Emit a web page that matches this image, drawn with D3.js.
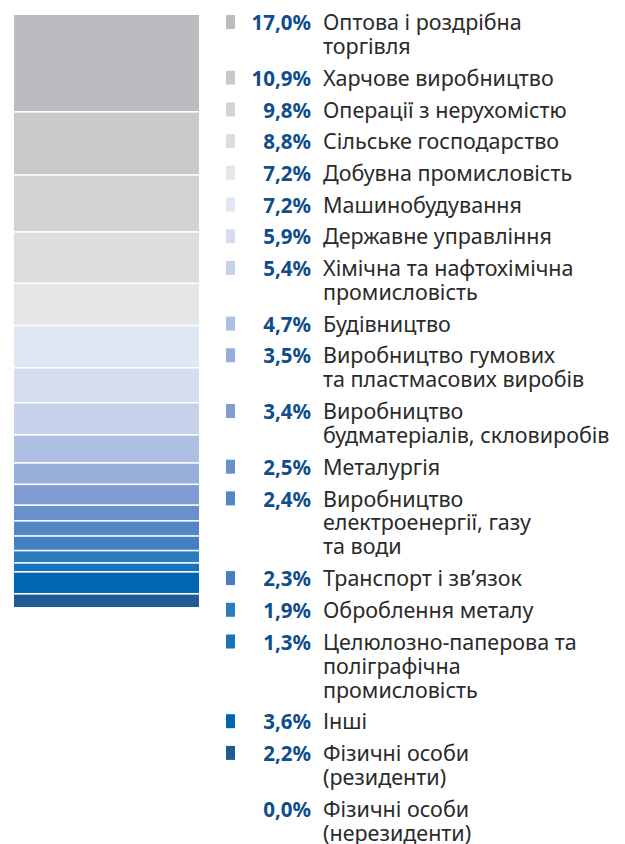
<!DOCTYPE html>
<html>
<head>
<meta charset="utf-8">
<script src="https://cdn.jsdelivr.net/npm/d3@7"></script>
<style>
  body { margin: 0; background: #fff; }
  svg text { font-family: "Noto Sans", sans-serif; }
  .pct { font-weight: bold; fill: #0f4d8c; }
  .lbl { fill: #2a2a2a; }
</style>
</head>
<body>
<div id="chart"></div>
<script>
var shares = [17.0, 10.9, 9.8, 8.8, 7.2, 7.2, 5.9, 5.4, 4.7, 3.5, 3.4, 2.5, 2.4, 2.3, 1.9, 1.3, 3.6, 2.2, 0.0];
var labels = [
  ["Оптова і роздрібна", "торгівля"],
  ["Харчове виробництво"],
  ["Операції з нерухомістю"],
  ["Сільське господарство"],
  ["Добувна промисловість"],
  ["Машинобудування"],
  ["Державне управління"],
  ["Хімічна та нафтохімічна", "промисловість"],
  ["Будівництво"],
  ["Виробництво гумових", "та пластмасових виробів"],
  ["Виробництво", "будматеріалів, скловиробів"],
  ["Металургія"],
  ["Виробництво", "електроенергії, газу", "та води"],
  ["Транспорт і зв’язок"],
  ["Оброблення металу"],
  ["Целюлозно-паперова та", "поліграфічна", "промисловість"],
  ["Інші"],
  ["Фізичні особи", "(резиденти)"],
  ["Фізичні особи", "(нерезиденти)"]
];
var colors = ["#bbbcc0", "#c8c9cb", "#d2d3d5", "#dcdddf", "#e5e6e8", "#dfe6f4",
  "#d3ddef", "#c5d2ea", "#adc0e3", "#97aedb", "#7f9dd2", "#6890ca",
  "#5485c5", "#437fc1", "#2b7bbf", "#1574bb", "#0066b3", "#225b94", "#ffffff"];

var width = 625, height = 844;
var svg = d3.select("#chart").append("svg")
  .attr("width", width)
  .attr("height", height);

// stacked column
var data = shares.map(function(v, i) { return {value: v, label: labels[i], color: colors[i], i: i}; });
var cum = 0;
data.forEach(function(d) { d.start = cum; cum += d.value; d.end = cum; });

var gap = 1.6;
var segs = data.filter(function(d) { return d.value > 0; });
var barTop = 15, barBottom = 607;
var y = d3.scaleLinear()
  .domain([0, d3.sum(shares)])
  .range([barTop, barBottom - gap * (segs.length - 1)]);
var x = d3.scaleLinear().domain([0, 1]).range([14, 199]);

svg.append("g")
  .attr("class", "bars")
  .selectAll("rect")
  .data(segs)
  .enter()
  .append("rect")
  .attr("x", x(0))
  .attr("width", x(1) - x(0))
  .attr("y", function(d, i) { return y(d.start) + i * gap; })
  .attr("height", function(d) { return y(d.end) - y(d.start); })
  .attr("fill", function(d) { return d.color; });

// legend
var lineH = 24, pitch = 31.7;
var rowY = 23;
data.forEach(function(d) { d.ly = rowY; rowY += pitch + lineH * (d.label.length - 1); });

var leg = svg.append("g")
  .attr("class", "legend")
  .selectAll("g")
  .data(data)
  .enter()
  .append("g")
  .attr("transform", function(d) { return "translate(0," + d.ly + ")"; });

leg.filter(function(d) { return d.value > 0; })
  .append("rect")
  .attr("x", 226)
  .attr("y", -8)
  .attr("width", 9)
  .attr("height", 14)
  .attr("fill", function(d) { return d.color; });

leg.append("text")
  .attr("class", "pct")
  .attr("x", 311)
  .attr("dy", "0.35em")
  .attr("text-anchor", "end")
  .style("font-size", "20.5px")
  .text(function(d) { return d3.format(".1f")(d.value).replace(".", ",") + "%"; });

leg.append("text")
  .attr("class", "lbl")
  .attr("x", 323)
  .style("font-size", "21.5px")
  .selectAll("tspan")
  .data(function(d) { return d.label; })
  .enter()
  .append("tspan")
  .attr("x", 323)
  .attr("y", function(t, j) { return j * lineH; })
  .attr("dy", "0.33em")
  .text(function(t) { return t; });
</script>
</body>
</html>
